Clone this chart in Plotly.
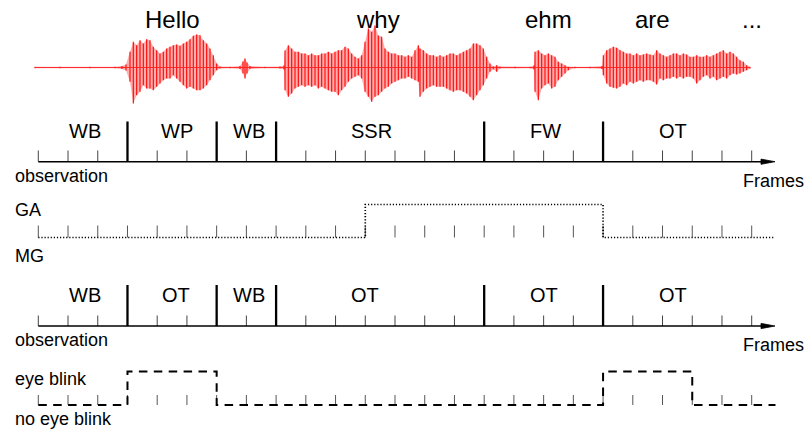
import plotly.graph_objects as go

# ---------------- data ----------------
# spoken words above the waveform (position on the time axis of the waveform)
words = ["Hello", "why", "ehm", "are", "..."]
word_t = [172.5, 378, 548, 652, 752]

# waveform envelope (time, upper amplitude, lower amplitude)
wave_t = [35, 60, 90, 115, 122, 126,
          130, 133.3, 136.7, 140, 143.3, 146.7, 150, 153.3, 156.7, 160, 163.3, 166.7, 170, 173.3,
          176.7, 180, 183.3, 186.7, 190, 193.3, 196.7, 200, 203.3, 206.7, 210, 213.3, 216.7, 220,
          230, 240, 243, 245, 247, 250, 265, 280, 284,
          285, 288.3, 291.7, 295, 298.3, 301.7, 305, 308.3, 311.7, 315, 318.3, 321.7, 325, 328.3,
          331.7, 335, 338.3, 341.7, 345, 348.3, 351.7, 355, 358.3, 361.7, 365, 368.3, 371.7, 375,
          378.3, 381.7, 385, 388.3, 391.7, 395, 398.3, 401.7, 405, 408.3, 411.7, 415, 418.3,
          420, 423.3, 426.7, 430, 433.3, 436.7, 440, 443.3, 446.7, 450, 453.3, 456.7, 460, 463.3,
          466.7, 470, 473.3, 476.7, 480, 483.3, 486.7, 490, 493.3, 496.7, 500, 515, 530, 534,
          535, 538.3, 541.7, 545, 548.3, 551.7, 555, 558.3, 561.7, 565, 568.3, 575, 590, 602,
          603.3, 606.7, 610, 613.3, 616.7, 620, 623.3, 626.7, 630, 633.3, 636.7, 640, 643.3, 646.7,
          650, 653.3, 656.7, 660, 663.3, 666.7, 670, 673.3, 676.7, 680, 683.3, 686.7, 690, 693.3,
          696.7, 700, 703.3, 706.7, 710, 713.3, 716.7, 720, 723.3, 726.7, 730, 733.3, 736.7, 740,
          743.3, 746.7, 750]
wave_top = [0.7, 0.7, 0.7, 0.7, 1.5, 3,
            15.7, 25.7, 22.3, 27.3, 24, 28.3, 27.3, 20.7, 17.3, 14, 15.7, 19, 20.7, 22.3,
            23, 21.7, 24, 25.7, 28.3, 31.7, 33, 32.3, 27.3, 24, 19, 12.3, 4, 1,
            0.8, 1.5, 6, 9, 5, 1.5, 0.8, 1, 2,
            17, 22.3, 19, 15.7, 15.7, 14, 14, 12.3, 14, 12.3, 12.3, 14, 14, 15.7,
            14, 15.7, 17.3, 17.3, 20.7, 19, 14, 10.7, 9, 12.3, 25.7, 39, 35.7, 42,
            32, 30.7, 19, 15.7, 14, 14, 12.3, 12.3, 10.7, 12.3, 10.7, 17.3, 22.3,
            19, 17.3, 14, 12.3, 12.3, 10.7, 12.3, 10.7, 12.3, 14, 14, 12.3, 14, 15.7,
            17.3, 19, 24, 24, 22.3, 19, 10.7, 4, 1, 2.3, 1, 0.7, 0.7, 2,
            15.7, 17.3, 14, 12.3, 14, 12.3, 10.7, 5.7, 4, 2.3, 0.7, 0.7, 0.7, 1.5,
            12.3, 17.3, 19, 20.7, 19.7, 17.3, 15.7, 14, 14, 12.3, 14, 12.3, 13, 14,
            13, 12.3, 17.3, 14, 12.3, 10.7, 12.3, 14, 14, 12.3, 14, 13, 10.7, 10.7,
            12.3, 10.7, 10.7, 12.3, 10.7, 12.3, 14, 15.7, 17.3, 14, 15.7, 14, 10.7, 7.3,
            5.7, 2.3, 0.7]
wave_bot = [0.7, 0.7, 0.7, 0.7, 1.5, 3,
            14.3, 36, 27.7, 24.3, 17.7, 21, 21, 22.7, 19.3, 16, 12.7, 11, 11, 7.7,
            11, 14.3, 17.7, 21, 19.3, 21, 22.7, 22.7, 21, 17.7, 12.7, 7.7, 2.7, 1,
            0.8, 1.5, 6, 11, 6, 1.5, 0.8, 1, 2,
            22.7, 29.3, 26, 21, 19.3, 17.7, 19.3, 17.7, 19.3, 17.7, 21, 19.3, 21, 22.7,
            24.3, 24.3, 27.7, 22.7, 19.3, 14.3, 11, 9.3, 7.7, 11, 24.3, 29.3, 34.3, 29.3,
            27.7, 24.3, 21, 19.3, 16, 14.3, 12.7, 11, 11, 9.3, 11, 12.7, 14.3,
            29.3, 24.3, 21, 19.3, 17.7, 19.3, 19.3, 19.3, 21, 22.7, 24.3, 22.7, 22.7, 24.3,
            26, 29.3, 32.7, 27.7, 22.7, 17.7, 11, 4.3, 1.7, 4.3, 1, 0.7, 0.7, 2,
            24.3, 32.7, 21, 17.7, 16, 21, 19.3, 12.7, 9.3, 6, 2.7, 0.7, 0.7, 1.5,
            7.7, 16, 19.3, 20.3, 21, 19.3, 16, 17.7, 14.3, 16, 14.3, 12.7, 14.3, 12.7,
            12.7, 14.3, 17, 11, 12.7, 11, 11, 9.3, 11, 9.3, 11, 9.3, 9.3, 11,
            16, 12.7, 9.3, 7.7, 11, 9.3, 12.7, 11, 9.3, 11, 7.7, 6, 7, 6,
            4.3, 2.7, 1]

# frame grid and segmentations
n_frames = 25
frames = list(range(n_frames))
seg_bounds = [3, 6, 8, 15, 19]
row1_labels = ["WB", "WP", "WB", "SSR", "FW", "OT"]
row1_label_pos = [1.57, 4.65, 7.1, 11.2, 17.05, 21.35]
row3_labels = ["WB", "OT", "WB", "OT", "OT", "OT"]
row3_label_pos = [1.57, 4.62, 7.1, 11.0, 17.0, 21.35]

# gaze state (0 = MG, 1 = GA) and eye-blink state (0 = no blink, 1 = blink)
ga_t = [0, 11, 19, 24.78]
ga_v = [0, 1, 0, 0]
eb_t = [0, 3, 6, 19, 22, 24.8]
eb_v = [0, 1, 0, 1, 0, 0]

# ---------------- layout constants ----------------
FONT = "Liberation Sans, Arial, Helvetica, sans-serif"
PX0, PXF = 38.3, 29.725          # pixel of frame 0, pixels per frame
W, H = 806, 432
X_LO, X_HI = -PX0 / PXF, (W - PX0) / PXF

WAVE_C = 67.5
R1_AX, R1_TICK, R1_BND, R1_LAB = 161.7, 150.5, 121.5, 131
GA_HI, GA_LO, GA_TICK = 204.5, 237.5, 225.5
R3_AX, R3_TICK, R3_BND, R3_LAB = 326, 315.5, 285, 295
EB_HI, EB_LO, EB_TICK = 371.5, 405, 395

fig = go.Figure()

# ---- waveform ----
upper = [WAVE_C - a for a in wave_top]
lower = [WAVE_C + a for a in wave_bot]
fig.add_trace(go.Scatter(x=wave_t + wave_t[::-1], y=upper + lower[::-1], xaxis="x2",
                         fill="toself", fillcolor="rgba(255,120,120,0.6)",
                         line=dict(width=0), mode="lines", hoverinfo="skip"))
sx, sy = [], []
for i, t in enumerate(wave_t):
    sx += [t, t, None]
    sy += [upper[i], lower[i], None]
fig.add_trace(go.Scatter(x=sx, y=sy, xaxis="x2", mode="lines",
                         line=dict(width=1.1, color="#ff0000"), hoverinfo="skip"))
fig.add_trace(go.Scatter(x=wave_t, y=[WAVE_C] * len(wave_t), xaxis="x2", mode="lines",
                         line=dict(width=0.9, color="#ff2020"), hoverinfo="skip"))


def ticks(y_top, y_bot, color, width=1):
    tx, ty = [], []
    for f in frames:
        tx += [f, f, None]
        ty += [y_top, y_bot, None]
    fig.add_trace(go.Scatter(x=tx, y=ty, mode="lines", line=dict(width=width, color=color),
                             hoverinfo="skip"))


def axis_row(y_ax, y_tick, y_bnd):
    ticks(y_tick, y_ax, "#444")
    bx, by = [], []
    for b in seg_bounds:
        bx += [b, b, None]
        by += [y_bnd, y_ax, None]
    fig.add_trace(go.Scatter(x=bx, y=by, mode="lines", line=dict(width=2.3, color="black"),
                             hoverinfo="skip"))
    tip = (775 - PX0) / PXF
    base = (761 - PX0) / PXF
    fig.add_trace(go.Scatter(x=[frames[0], base], y=[y_ax, y_ax], mode="lines",
                             line=dict(width=1.4, color="black"), hoverinfo="skip"))
    fig.add_trace(go.Scatter(x=[base, tip, base, base], y=[y_ax - 2.6, y_ax, y_ax + 2.6, y_ax - 2.6],
                             mode="lines", fill="toself", fillcolor="black",
                             line=dict(width=0.8, color="black"), hoverinfo="skip"))


axis_row(R1_AX, R1_TICK, R1_BND)
axis_row(R3_AX, R3_TICK, R3_BND)

# GA / MG track
ticks(GA_TICK, GA_LO, "#555")
fig.add_trace(go.Scatter(x=ga_t, y=[GA_LO - v * (GA_LO - GA_HI) for v in ga_v], mode="lines",
                         line=dict(width=1.7, color="black", dash="1.2px,1.9px", shape="hv"),
                         hoverinfo="skip"))

# eye-blink track
ticks(EB_TICK, EB_LO, "#555")
fig.add_trace(go.Scatter(x=eb_t, y=[EB_LO - v * (EB_LO - EB_HI) for v in eb_v], mode="lines",
                         line=dict(width=2, color="black", dash="8.5px,6.4px", shape="hv"),
                         hoverinfo="skip"))

ann = []
for w, t in zip(words, word_t):
    ann.append(dict(x=t, y=19, xref="x2", yref="y", text=w, showarrow=False,
                    font=dict(family=FONT, size=24, color="black")))
for lab, p in zip(row1_labels, row1_label_pos):
    ann.append(dict(x=p, y=R1_LAB, xref="x", yref="y", text=lab, showarrow=False,
                    font=dict(family=FONT, size=20, color="black")))
for lab, p in zip(row3_labels, row3_label_pos):
    ann.append(dict(x=p, y=R3_LAB, xref="x", yref="y", text=lab, showarrow=False,
                    font=dict(family=FONT, size=20, color="black")))

side = [("observation", 176), ("GA", 209.5), ("MG", 256), ("observation", 340),
        ("eye blink", 378.5), ("no eye blink", 419)]
for txt, y in side:
    ann.append(dict(x=13, y=y, xref="x2", yref="y", text=txt, showarrow=False, xanchor="left",
                    font=dict(family=FONT, size=18, color="black")))
for y in (180.5, 345):
    ann.append(dict(x=741, y=y, xref="x2", yref="y", text="Frames", showarrow=False,
                    xanchor="left", font=dict(family=FONT, size=18, color="black")))

fig.update_layout(
    width=W, height=H, margin=dict(l=0, r=0, t=0, b=0),
    paper_bgcolor="white", plot_bgcolor="white", showlegend=False,
    xaxis=dict(range=[X_LO, X_HI], visible=False, fixedrange=True),
    xaxis2=dict(range=[0, W], visible=False, overlaying="x", fixedrange=True),
    yaxis=dict(range=[H, 0], visible=False, fixedrange=True),
    annotations=ann,
)

fig.write_html("out.html", config={"displayModeBar": False},
               post_script="document.body.style.margin='0';document.body.style.overflow='hidden';")
